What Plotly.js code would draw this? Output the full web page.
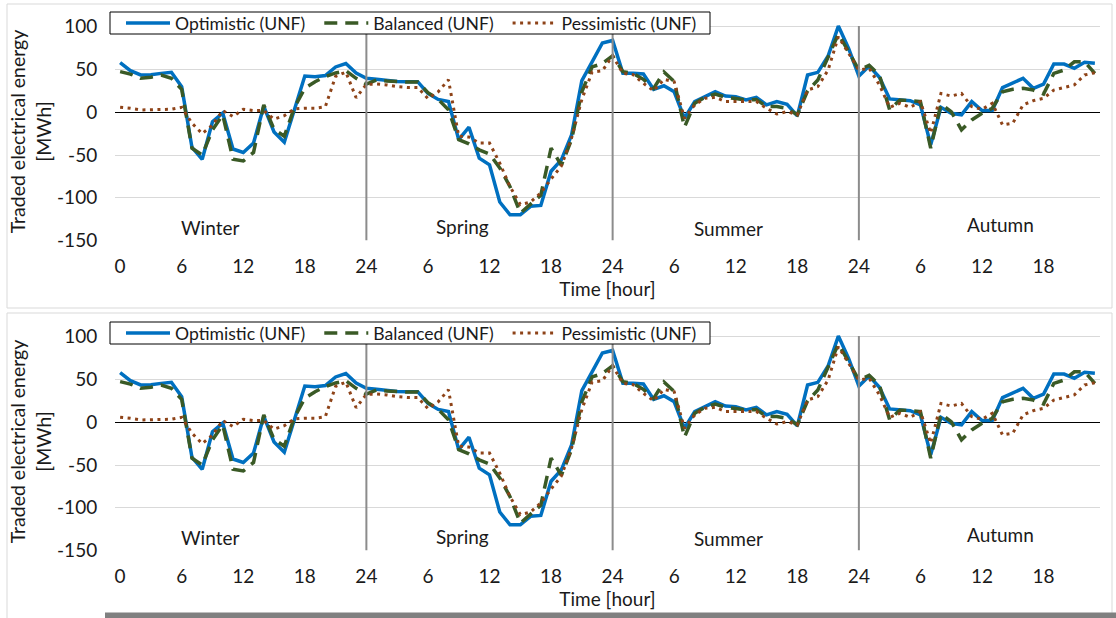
<!DOCTYPE html>
<html><head><meta charset="utf-8">
<script src="https://cdn.plot.ly/plotly-3.0.1.min.js"></script>
<style>html,body{margin:0;padding:0;background:#fff}#chart{width:1116px;height:618px}</style>
</head><body><div id="chart"></div>
<script>
// hour index across the four seasonal days (0..95)
const hourIndex = [];
for (let i = 0; i < 96; i++) hourIndex.push(i);

const tickLabels = ['0','6','12','18','24','6','12','18','24','6','12','18','24','6','12','18'];
const yTickValues = [-150, -100, -50, 0, 50, 100];
const yTickLabels = ['-150', '-100', '-50', '0', '50', '100'];
const seasons = ['Winter','Spring','Summer','Autumn'];
const seriesNames = ['Optimistic (UNF)', 'Balanced (UNF)', 'Pessimistic (UNF)'];

const optimistic = [
  58,48.6,43.6,44,45.5,46.7,30,-41,-55,-11,-1,-43,-47,-36,7,-23,-35,3,42.4,41.6,43,53,57,46,
  39.7,38.5,37,36,35.8,35.8,22,15,12.5,-32,-17.5,-53.7,-61.5,-105,-120,-120,-110,-109,-69,-55.6,-26.5,37,59,81,
  84,45.5,45.5,44.7,26.8,31,24,-7,12.5,18.3,24,19,18.3,14.4,17.5,8.6,12.5,9.3,-4.3,43.6,46.7,65.8,100.8,74.7,
  42.4,54,40.9,15.6,14.4,13.6,8.6,-38,5.8,-1.2,-3,12.5,2,2,28.8,33.9,39.7,28,33,56.4,56.4,51.4,58.4,57.2
];
const balanced = [
  47.5,44.7,39.7,41,43.6,39.7,26.8,-42,-50,-20.6,-3,-55,-57,-47,8.6,-20,-28,6,28,35.8,41.6,46,48.6,39.7,
  33,37.7,36.6,35.8,35.4,35.4,23,15,3,-32,-37,-44,-49,-65,-87,-118,-108,-97,-42,-62,-32,24,53,57,
  66,47.5,45.5,38.5,28,47,36,-17.5,10.5,17.5,21.4,17.5,16,14.4,15,6.6,6.6,4.7,-3,25,37.7,65,91.4,70.8,
  49.4,55,43.6,2.7,14.4,13.6,12.5,-42,9.7,0.8,-20.6,-9,-1.2,4.7,24,26.8,28,26,21.4,45.5,49.4,59,59,45.5
];
const pessimistic = [
  5.8,4.7,2.7,2.7,3.5,3.5,5.8,-12.8,-25,-15,2,-5,3.5,2,2,-8,-4,4,4.7,4.7,6.5,42,47,17,
  32.7,33,32,30,29,29,16,24,38,-28,-29,-36,-36,-59.5,-87,-108,-105,-94.5,-78,-63,-30,15,47,48.6,
  66,45.5,44,33.9,25,38.5,35.8,-7,8.6,16.3,17.5,12.5,12.5,12.5,12.5,4.7,-2,0.8,-3,26,30,49.4,88.3,69,
  49.4,51.4,32,5.8,10.5,5.8,12.5,-24.5,22,19,22,6.6,3.5,10.5,-14.8,-12.8,8.6,13.6,16.3,26,29,32,43.6,46.3
];

const FONT = 'Lato, "Open Sans", sans-serif';
const TXT = '#1a1a1a';
const W = 1116, H = 618;
const py = p => 1 - p / H;   // pixel row -> paper fraction
const px = p => p / W;
const PAD = '\u00a0\u00a0';

const seriesDefs = [
  {name: seriesNames[0], y: optimistic, line: {color: '#0070c0', width: 3.5, dash: 'solid'}},
  {name: seriesNames[1], y: balanced, line: {color: '#3a5a26', width: 3.5, dash: '13px,8px'}},
  {name: seriesNames[2], y: pessimistic, line: {color: '#8e4318', width: 3, dash: '3px,4.5px'}}
];

const traces = [];
[['x','y','legend'],['x2','y2','legend2']].forEach(([xa, ya, lg]) => {
  seriesDefs.forEach((s, i) => traces.push({
    type: 'scatter', mode: 'lines', x: hourIndex, y: s.y,
    name: i < 2 ? s.name + PAD : s.name,
    line: s.line, xaxis: xa, yaxis: ya, legend: lg, hoverinfo: 'x+y+name'
  }));
});

const tickVals = tickLabels.map((_, i) => i * 6);
const seasonCenters = [8.8, 33.4, 59.3, 85.8];
const seasonY = [-135, -134, -136, -131];

function xAxis(domainAnchor) {
  return {
    domain: [px(115), px(1100)], range: [-0.5, 95.5], anchor: domainAnchor,
    tickvals: tickVals, ticktext: tickLabels, showgrid: false, zeroline: false, showline: false,
    ticks: 'outside', ticklen: 9, tickcolor: 'rgba(0,0,0,0)',
    tickfont: {family: FONT, size: 19, color: TXT},
    title: {text: 'Time [hour]', font: {family: FONT, size: 19, color: TXT}, standoff: 2}
  };
}
function yAxis(top, bottom, anchor) {
  return {
    domain: [py(bottom), py(top)], range: [-150, 105], anchor: anchor,
    tickvals: yTickValues, ticktext: yTickLabels, showgrid: true, gridcolor: '#d9d9d9', gridwidth: 1,
    zeroline: true, zerolinecolor: '#000', zerolinewidth: 1, showline: false,
    ticks: 'outside', ticklen: 13, tickcolor: 'rgba(0,0,0,0)',
    tickfont: {family: FONT, size: 19, color: TXT},
    title: {text: 'Traded electrical energy<br>[MWh]', font: {family: FONT, size: 19.5, color: TXT}, standoff: 0}
  };
}

const shapes = [];
const annotations = [];
[['x','y',0],['x2','y2',310]].forEach(([xa, ya, off]) => {
  [24, 48, 72].forEach(v => shapes.push({
    type: 'line', xref: xa, yref: ya, x0: v, x1: v, y0: -150, y1: 101,
    line: {color: '#8c8c8c', width: 2}, layer: 'above'
  }));
  seasons.forEach((s, i) => annotations.push({
    xref: xa, yref: ya, x: seasonCenters[i], y: seasonY[i], text: s, showarrow: false,
    font: {family: FONT, size: 19, color: TXT}
  }));
  // legend box (white, black border) drawn over the plot lines
  shapes.push({type:'rect', xref:'paper', yref:'paper', x0: px(110), x1: px(710),
    y0: py(34 + off), y1: py(12 + off), fillcolor:'#fff', line:{color:'#000', width:1}, layer:'above'});
});
// panel frames and bottom bar
shapes.push({type:'rect', xref:'paper', yref:'paper', x0: px(7), x1: px(1112), y0: py(308), y1: py(4),
  line:{color:'#d9d9d9', width:1}, layer:'below'});
shapes.push({type:'rect', xref:'paper', yref:'paper', x0: px(7), x1: px(1112), y0: py(640), y1: py(313),
  line:{color:'#d9d9d9', width:1}, layer:'below'});
shapes.push({type:'rect', xref:'paper', yref:'paper', x0: px(105), x1: 1, y0: 0, y1: py(612.5),
  fillcolor:'#808080', line:{width:0}, layer:'above'});

function legendDef(center) {
  return {
    x: px(121), y: py(center), xanchor: 'left', yanchor: 'middle', orientation: 'h',
    bgcolor: 'rgba(0,0,0,0)', borderwidth: 0,
    font: {family: FONT, size: 17.6, color: TXT}, itemwidth: 44, tracegroupgap: 0
  };
}

const layout = {
  width: W, height: H, margin: {l: 0, r: 0, t: 0, b: 0},
  paper_bgcolor: '#fff', plot_bgcolor: '#fff', showlegend: true,
  xaxis: xAxis('y'), yaxis: yAxis(22.5, 240.5, 'x'),
  xaxis2: xAxis('y2'), yaxis2: yAxis(332.5, 550.5, 'x2'),
  legend: legendDef(23), legend2: legendDef(333),
  shapes: shapes, annotations: annotations
};

Plotly.newPlot('chart', traces, layout, {displayModeBar: false, staticPlot: true});
</script></body></html>
